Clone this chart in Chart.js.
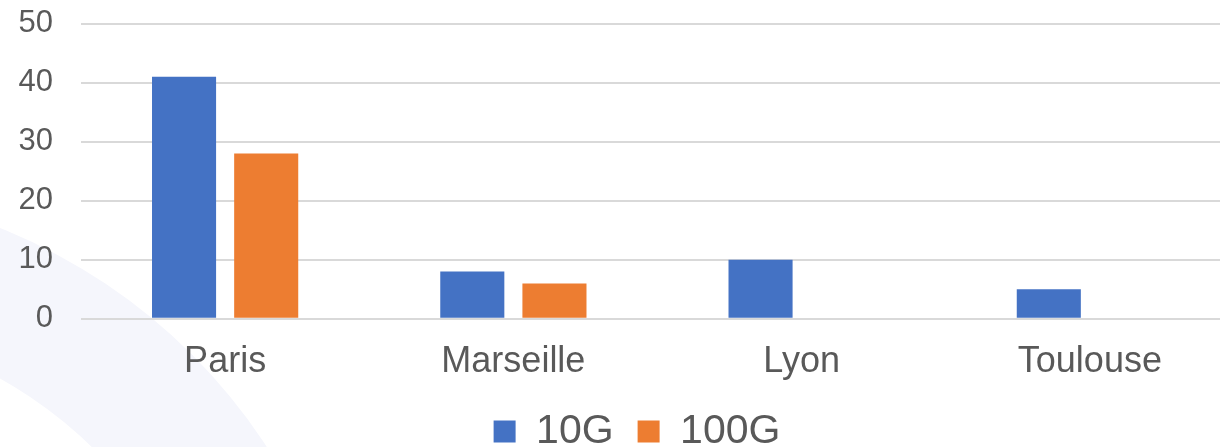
<!DOCTYPE html>
<html>
<head>
<meta charset="utf-8">
<script src="https://cdn.jsdelivr.net/npm/chart.js@4"></script>
<style>
    html, body { margin: 0; padding: 0; background: #ffffff; overflow: hidden; }
    #wrap { position: absolute; left: 0; top: -23px; width: 1240px; height: 498px; }
</style>
</head>
<body>
<div id="wrap"><canvas id="portChart"></canvas></div>
<script>
const villes = ['Paris', 'Marseille', 'Lyon', 'Toulouse'];
const ports10G = [41, 8, 10, 5];
const ports100G = [28, 6, 0, 0];
const yTicks = [0, 10, 20, 30, 40, 50];

// faint ring in the bottom-left corner of the slide background
const backgroundRing = {
    id: 'backgroundRing',
    beforeDraw(chart) {
        const ctx = chart.ctx;
        ctx.save();
        ctx.fillStyle = '#f5f6fc';
        ctx.beginPath();
        ctx.arc(-213, 783, 573, 0, Math.PI * 2);
        ctx.arc(-213, 783, 437, 0, Math.PI * 2, true);
        ctx.fill('evenodd');
        ctx.restore();
    }
};

// the legend sits a bit right of the plot centre in the original
const legendShift = {
    id: 'legendShift',
    afterLayout(chart) {
        const lg = chart.legend;
        lg.left += 20;
        lg.right += 20;
        lg.top -= 11;
        lg.bottom -= 11;
    }
};

const ctx = document.getElementById('portChart');

new Chart(ctx, {
    type: 'bar',
    data: {
        labels: villes,
        datasets: [
            {
                label: '10G',
                data: ports10G,
                backgroundColor: '#4472c4'
            },
            {
                label: '100G',
                data: ports100G,
                backgroundColor: '#ed7d31'
            }
        ]
    },
    options: {
        responsive: true,
        maintainAspectRatio: false,
        animation: false,
        datasets: {
            bar: {
                categoryPercentage: 0.57,
                barPercentage: 0.78
            }
        },
        layout: {
            padding: { left: 0, right: 6, top: 8, bottom: 2 }
        },
        plugins: {
            tooltip: { enabled: false },
            legend: {
                position: 'bottom',
                labels: {
                    color: '#595959',
                    font: { family: 'Liberation Sans', size: 41 },
                    boxWidth: 22,
                    boxHeight: 22,
                    padding: 24
                }
            }
        },
        scales: {
            x: {
                grid: { display: false },
                border: { display: false },
                ticks: {
                    color: '#595959',
                    font: { family: 'Liberation Sans', size: 36 },
                    padding: 14
                }
            },
            y: {
                min: 0,
                max: 50,
                afterBuildTicks(axis) {
                    axis.ticks = yTicks.map(v => ({ value: v }));
                },
                afterFit(axis) {
                    axis.width = 81;
                },
                grid: { color: '#d9d9d9', lineWidth: 2, drawTicks: false },
                border: { display: false },
                ticks: {
                    color: '#595959',
                    font: { family: 'Liberation Sans', size: 31 },
                    padding: 28
                }
            }
        }
    },
    plugins: [backgroundRing, legendShift]
});
</script>
</body>
</html>
